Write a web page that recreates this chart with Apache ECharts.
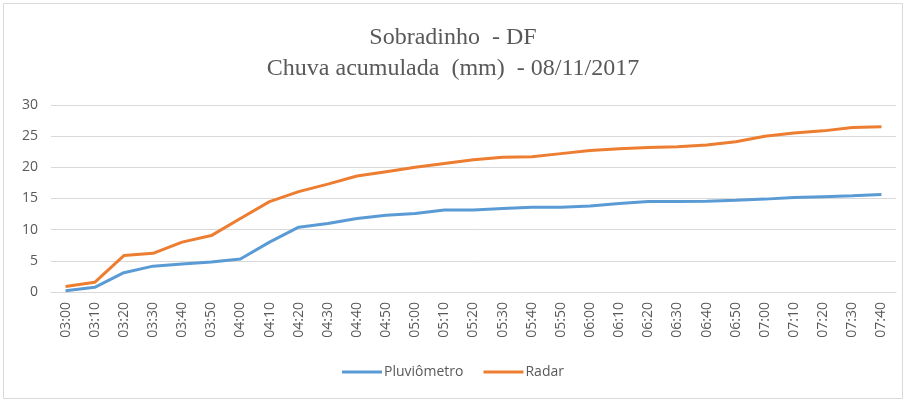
<!DOCTYPE html>
<html>
<head>
<meta charset="utf-8">
<script src="https://cdn.jsdelivr.net/npm/echarts@6/dist/echarts.min.js"></script>
<style>
  html, body { margin: 0; padding: 0; background: #fff; }
  #chart { width: 906px; height: 400px; }
</style>
</head>
<body>
<div id="chart"></div>
<script>
const categories = ['03:00', '03:10', '03:20', '03:30', '03:40', '03:50', '04:00', '04:10', '04:20', '04:30',
  '04:40', '04:50', '05:00', '05:10', '05:20', '05:30', '05:40', '05:50', '06:00', '06:10',
  '06:20', '06:30', '06:40', '06:50', '07:00', '07:10', '07:20', '07:30', '07:40'];
const pluviometro = [0.2, 0.75, 3.1, 4.15, 4.5, 4.8, 5.3, 8.0, 10.4, 11.0,
  11.8, 12.3, 12.6, 13.15, 13.15, 13.4, 13.6, 13.6, 13.8, 14.2,
  14.5, 14.5, 14.55, 14.7, 14.9, 15.15, 15.3, 15.45, 15.65];
const radar = [0.9, 1.55, 5.85, 6.2, 8.0, 9.05, 11.8, 14.5, 16.1, 17.3,
  18.6, 19.3, 20.0, 20.6, 21.2, 21.6, 21.7, 22.2, 22.7, 23.0,
  23.2, 23.3, 23.6, 24.1, 25.0, 25.5, 25.85, 26.4, 26.5];
const yTicks = { min: 0, max: 30, interval: 5 };

const chart = echarts.init(document.getElementById('chart'));

const option = {
  animation: false,
  backgroundColor: '#fff',
  graphic: [{
    type: 'rect',
    shape: { x: 3.5, y: 3.5, width: 899, height: 395 },
    style: { fill: 'none', stroke: '#d9d9d9', lineWidth: 1 },
    silent: true
  }],
  title: {
    text: 'Sobradinho  - DF\nChuva acumulada  (mm)  - 08/11/2017',
    left: 'center',
    top: 17,
    textStyle: {
      fontFamily: 'Liberation Serif',
      fontWeight: 'normal',
      fontSize: 24,
      lineHeight: 31,
      color: '#595959'
    }
  },
  legend: {
    bottom: 16,
    left: 'center',
    itemWidth: 40,
    itemHeight: 3,
    itemGap: 20,
    icon: 'rect',
    textStyle: { color: '#595959', fontSize: 14, fontFamily: 'Open Sans', padding: [0, 0, 0, -3] },
    data: ['Pluviômetro', 'Radar']
  },
  grid: { left: 51, right: 10, top: 105, bottom: 108 },
  xAxis: {
    type: 'category',
    data: categories,
    boundaryGap: true,
    axisLine: { lineStyle: { color: '#d9d9d9' } },
    axisTick: { show: false },
    axisLabel: {
      rotate: 90,
      interval: 0,
      margin: 10,
      color: '#595959',
      fontSize: 14,
      fontFamily: 'Open Sans'
    }
  },
  yAxis: {
    type: 'value',
    min: yTicks.min,
    max: yTicks.max,
    interval: yTicks.interval,
    axisLine: { show: false },
    axisTick: { show: false },
    axisLabel: { color: '#595959', fontSize: 14, fontFamily: 'Open Sans', margin: 13 },
    splitLine: { lineStyle: { color: '#d9d9d9' } }
  },
  series: [
    {
      name: 'Pluviômetro',
      type: 'line',
      data: pluviometro,
      symbol: 'none',
      color: '#5B9BD5',
      lineStyle: { width: 3, color: '#5B9BD5' }
    },
    {
      name: 'Radar',
      type: 'line',
      data: radar,
      symbol: 'none',
      color: '#ED7D31',
      lineStyle: { width: 3, color: '#ED7D31' }
    }
  ]
};

chart.setOption(option);
</script>
</body>
</html>
